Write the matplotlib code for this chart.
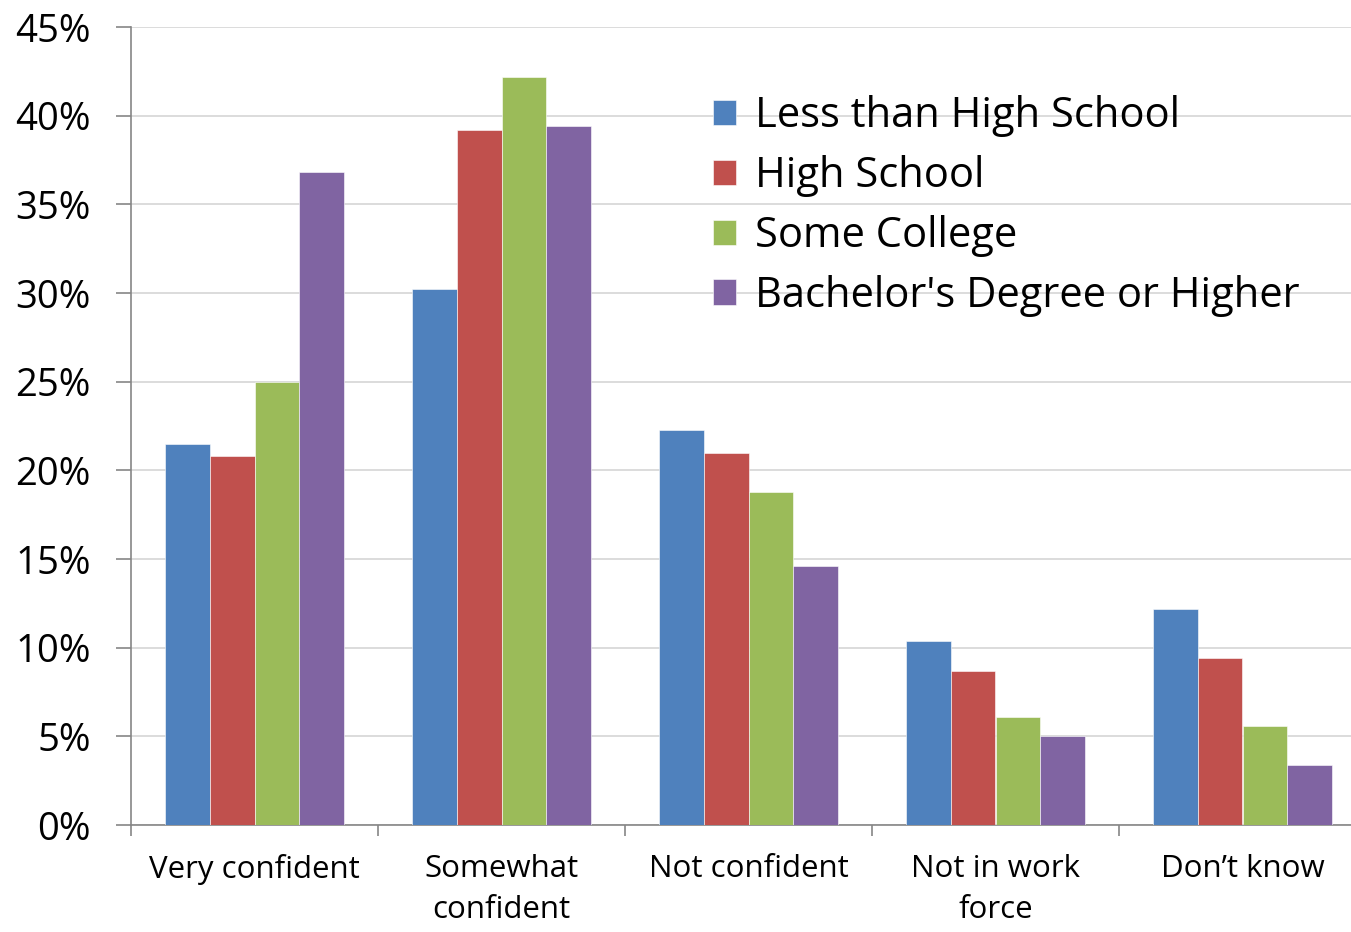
import matplotlib as mpl
import matplotlib.pyplot as plt
import numpy as np
from matplotlib.ticker import FuncFormatter, FixedLocator

CATEGORIES = ["Very confident", "Somewhat\nconfident", "Not confident", "Not in work\nforce", "Don\u2019t know"]
SERIES = ["Less than High School", "High School", "Some College", "Bachelor's Degree or Higher"]
LESS_HS = [21.5, 30.2, 22.3, 10.4, 12.2]
HIGH_SCHOOL = [20.8, 39.2, 21.0, 8.7, 9.4]
SOME_COLLEGE = [25.0, 42.2, 18.8, 6.1, 5.6]
BACHELORS = [36.8, 39.4, 14.6, 5.0, 3.4]
Y_TICKS = [0, 5, 10, 15, 20, 25, 30, 35, 40, 45]

COLORS = ["#4F81BD", "#C0504D", "#9BBB59", "#8064A2"]
AXIS = "#868686"
GRID = "#D9D9D9"

mpl.rcParams.update({
    "font.family": ["Open Sans", "DejaVu Sans"],
    "text.color": "black",
})

fig = plt.figure(figsize=(13.51, 9.32), dpi=100)
ax = fig.add_axes([131 / 1351, 1 - 825 / 932, 1 - 131 / 1351, (825 - 27) / 932])

values = [LESS_HS, HIGH_SCHOOL, SOME_COLLEGE, BACHELORS]
x = np.arange(len(CATEGORIES))
width = 0.182
for i, (name, vals) in enumerate(zip(SERIES, values)):
    ax.bar(x + (i - 1.5) * width, vals, width, color=COLORS[i], label=name,
           edgecolor="white", linewidth=0.4, zorder=3)

ax.yaxis.set_major_locator(FixedLocator(Y_TICKS))
ax.yaxis.set_major_formatter(FuncFormatter(lambda v, _: f"{v:.0f}%"))
ax.grid(axis="y", color=GRID, linewidth=1.3, zorder=0)
ax.set_axisbelow(True)

ax.set_xticks(x)
ax.set_xticklabels(CATEGORIES, fontsize=22.5, linespacing=1.45)
ax.set_xticks(np.arange(-0.5, len(CATEGORIES), 1.0), minor=True)
ax.tick_params(axis="x", which="major", length=0, pad=21)
ax.tick_params(axis="x", which="minor", length=8, width=1.2, color=AXIS, direction="out")
ax.tick_params(axis="y", length=11, width=1.2, color=AXIS, pad=18, labelsize=27.5)
ax.set_xlim(-0.5, -0.5 + 1220 / 247)
ax.set_ylim(0, 45)

for side in ("top", "right"):
    ax.spines[side].set_visible(False)
for side in ("left", "bottom"):
    ax.spines[side].set_color(AXIS)
    ax.spines[side].set_linewidth(1.2)

ax.legend(loc="upper left", bbox_to_anchor=(713 / 1351, 1 - 95 / 932),
          bbox_transform=fig.transFigure, frameon=False, fontsize=30,
          handlelength=0.55, handleheight=0.55, handletextpad=0.45,
          labelspacing=0.43, borderaxespad=0, borderpad=0)

fig.savefig("out.png", dpi=100, facecolor="white")
